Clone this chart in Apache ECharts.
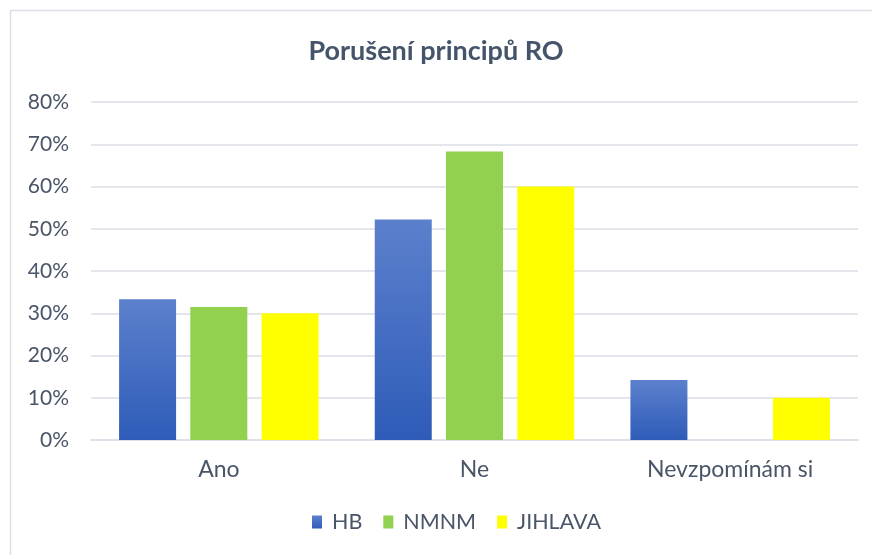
<!DOCTYPE html>
<html><head><meta charset="utf-8">
<script src="https://cdn.jsdelivr.net/npm/echarts@6/dist/echarts.min.js"></script>
<style>html,body{margin:0;padding:0;background:#fff}#c{width:872px;height:555px}</style>
</head><body><div id="c"></div>
<script>
const categories = ['Ano', 'Ne', 'Nevzpomínám si'];
const seriesNames = ['HB', 'NMNM', 'JIHLAVA'];
const hbValues = [0.333, 0.522, 0.142];
const nmnmValues = [0.315, 0.683, 0];
const jihlavaValues = [0.30, 0.60, 0.10];
const yTicks = [0, 0.1, 0.2, 0.3, 0.4, 0.5, 0.6, 0.7, 0.8];

const font = 'Lato, "Open Sans", sans-serif';
const txt = '#4A5568';
const chart = echarts.init(document.getElementById('c'), null, {renderer: 'canvas'});
chart.setOption({
  animation: false,
  backgroundColor: '#fff',
  graphic: [{type: 'rect', shape: {x: 10.5, y: 10.5, width: 880, height: 600}, style: {fill: 'none', stroke: '#D9DEE8', lineWidth: 1.5}, silent: true}],
  title: {text: 'Porušení principů RO', left: 'center', top: 33,
    textStyle: {fontFamily: font, fontSize: 27, fontWeight: 'bold', color: '#44546A'}},
  grid: {left: 91, right: 14, top: 102, bottom: 115},
  legend: {data: seriesNames, bottom: 17, left: 307, itemWidth: 10, itemHeight: 13, itemGap: 21,
    icon: 'rect', textStyle: {fontFamily: font, fontSize: 21.5, color: txt, padding: [0, 0, 0, 5]}},
  xAxis: {type: 'category', data: categories,
    axisLine: {show: true, lineStyle: {color: '#DDE2EA', width: 2}},
    axisTick: {show: false},
    axisLabel: {fontFamily: font, fontSize: 23, color: txt, margin: 18}},
  yAxis: {type: 'value', min: yTicks[0], max: yTicks[yTicks.length - 1], interval: 0.1,
    axisLine: {show: false}, axisTick: {show: false},
    splitLine: {lineStyle: {color: '#E3E6EC', width: 2}},
    axisLabel: {fontFamily: font, fontSize: 21, color: txt, margin: 22,
      formatter: v => Math.round(v * 100) + '%'}},
  series: [
    {name: 'HB', type: 'bar', data: hbValues, barWidth: 57, barGap: '25%',
      itemStyle: {color: new echarts.graphic.LinearGradient(0, 0, 0, 1, [{offset: 0, color: '#5C80CD'}, {offset: 1, color: '#2E5CB8'}])}},
    {name: 'NMNM', type: 'bar', data: nmnmValues, barWidth: 57, itemStyle: {color: '#92D050'}},
    {name: 'JIHLAVA', type: 'bar', data: jihlavaValues, barWidth: 57, itemStyle: {color: '#FFFF00'}}
  ]
});
</script></body></html>
